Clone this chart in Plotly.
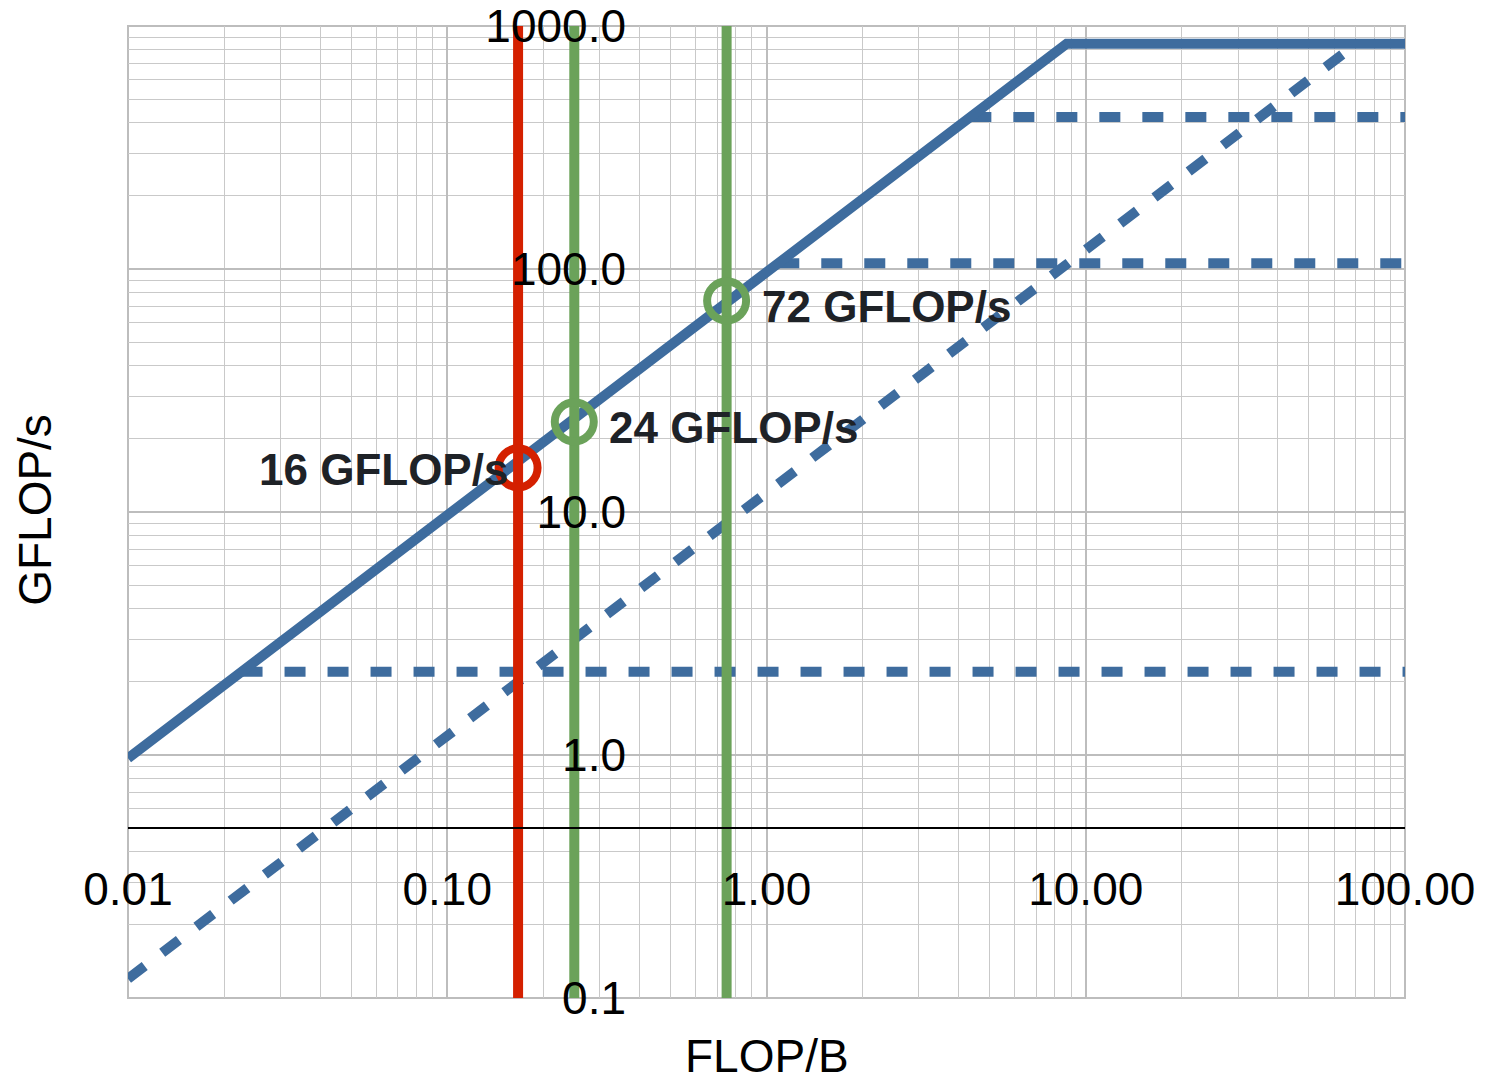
import numpy as np
import plotly.graph_objects as go

# ---- data ----
dram_bw = 97.0          # GB/s, solid roofline slope
low_bw = 12.0           # GB/s, dashed roofline slope
peak = 845.0            # GFLOP/s, compute roof
ceilings = [422.0, 105.6, 2.2]   # dashed horizontal ceilings (GFLOP/s)
x_min, x_max = 0.01, 100.0
y_min, y_max = 0.1, 1000.0

kernel_ai = [1 / 6, 0.25, 0.75]            # FLOP/B
kernel_perf = [15.2, 23.5, 74.0]          # GFLOP/s (circle positions)
kernel_labels = ["16 GFLOP/s", "24 GFLOP/s", "72 GFLOP/s"]
kernel_colors = ["#D42000", "#6BA25A", "#6BA25A"]
label_side = ["left", "right", "right"]

x_tickvals = [0.01, 0.1, 1, 10, 100]
x_ticktext = ["0.01", "0.10", "1.00", "10.00", "100.00"]
y_tickvals = [0.1, 1, 10, 100, 1000]
y_ticktext = ["0.1", "1.0", "10.0", "100.0", "1000.0"]
x_axis_cross = 0.5   # GFLOP/s where the horizontal axis crosses
x_title = "FLOP/B"
y_title = "GFLOP/s"

BLUE = "#3E6C9E"
TEXT = "#1E2227"
FONT = "Liberation Sans, Arial, Helvetica, sans-serif"

fig = go.Figure()

# dashed horizontal ceilings
for c in ceilings:
    fig.add_trace(go.Scatter(x=[c / dram_bw, x_max], y=[c, c], mode="lines",
                             line=dict(color=BLUE, width=10, dash="21px,22px"),
                             hoverinfo="skip", showlegend=False))
# dashed diagonal (lower bandwidth)
fig.add_trace(go.Scatter(x=[x_min, peak / low_bw], y=[low_bw * x_min, peak], mode="lines",
                         line=dict(color=BLUE, width=10, dash="21px,22px"),
                         hoverinfo="skip", showlegend=False))
# solid roofline
fig.add_trace(go.Scatter(x=[x_min, peak / dram_bw, x_max],
                         y=[dram_bw * x_min, peak, peak], mode="lines",
                         line=dict(color=BLUE, width=10),
                         hoverinfo="skip", showlegend=False))
# vertical kernel lines
for xa, col in zip(kernel_ai, kernel_colors):
    fig.add_trace(go.Scatter(x=[xa, xa], y=[y_min, y_max], mode="lines",
                             line=dict(color=col, width=10),
                             hoverinfo="skip", showlegend=False))
# circles
fig.add_trace(go.Scatter(x=kernel_ai, y=kernel_perf, mode="markers",
                         marker=dict(symbol="circle-open", size=39,
                                     color=kernel_colors,
                                     line=dict(width=8, color=kernel_colors)),
                         hoverinfo="skip", showlegend=False))

# labels
for xa, ya, txt, side in zip(kernel_ai, kernel_perf, kernel_labels, label_side):
    fig.add_annotation(x=np.log10(xa), y=np.log10(ya), text=f"<b>{txt}</b>",
                       showarrow=False,
                       xanchor="right" if side == "left" else "left",
                       xshift=-8 if side == "left" else 33,
                       yshift=-2 if side == "left" else -6,
                       font=dict(family=FONT, size=44, color=TEXT))

# axis titles
fig.add_annotation(xref="paper", yref="paper", x=0.5, y=-0.06, text=x_title,
                   showarrow=False, xanchor="center", yanchor="middle",
                   font=dict(family=FONT, size=46, color="black"))
fig.add_annotation(xref="paper", yref="paper", x=-0.073, y=0.502, text=y_title,
                   showarrow=False, xanchor="center", yanchor="middle", textangle=-90,
                   font=dict(family=FONT, size=46, color="black"))

# minor grid values
minor_x = [m * 10.0 ** e for e in range(-2, 2) for m in range(2, 10)]
minor_y = [m * 10.0 ** e for e in range(-1, 3) for m in range(2, 10)]

fig.update_xaxes(type="log", range=[np.log10(x_min), np.log10(x_max)],
                 tickvals=x_tickvals, ticktext=x_ticktext,
                 anchor="free",
                 position=(np.log10(x_axis_cross) - np.log10(y_min)) / (np.log10(y_max) - np.log10(y_min)),
                 showline=True, linecolor="black", linewidth=2,
                 ticks="", ticklabelstandoff=21,
                 tickfont=dict(family=FONT, size=46, color="black"),
                 showgrid=True, gridcolor="#BDBDBD", gridwidth=2,
                 minor=dict(tickvals=minor_x, showgrid=True, gridcolor="#C9C9C9", gridwidth=1),
                 zeroline=False, automargin=False)
fig.update_yaxes(type="log", range=[np.log10(y_min), np.log10(y_max)],
                 tickvals=y_tickvals, ticktext=y_ticktext,
                 anchor="free", position=0.39, side="left",
                 showline=False, ticks="",
                 tickfont=dict(family=FONT, size=46, color="black"),
                 showgrid=True, gridcolor="#BDBDBD", gridwidth=2,
                 minor=dict(tickvals=minor_y, showgrid=True, gridcolor="#C9C9C9", gridwidth=1),
                 zeroline=False, automargin=False)

# plot area border
fig.add_shape(type="rect", xref="paper", yref="paper", x0=0, x1=1, y0=0, y1=1,
              line=dict(color="#BDBDBD", width=2), layer="below")

fig.update_layout(width=1490, height=1085,
                  margin=dict(l=128, r=85, t=26, b=87),
                  plot_bgcolor="white", paper_bgcolor="white",
                  showlegend=False)

fig.write_html("out.html")
